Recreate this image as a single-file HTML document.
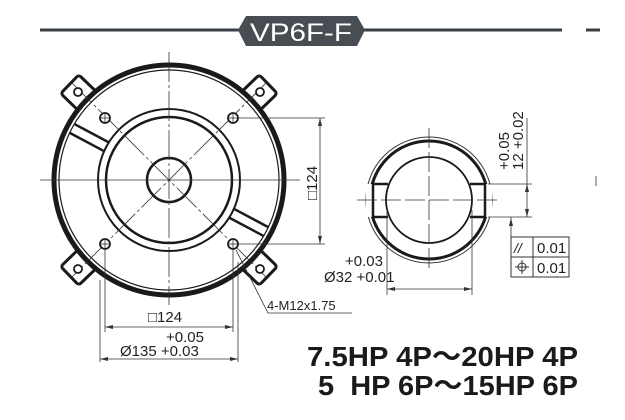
<!DOCTYPE html>
<html><head><meta charset="utf-8"><style>
html,body{margin:0;padding:0;background:#fff}
svg{display:block}
text{font-family:"Liberation Sans",sans-serif;fill:#222}
</style></head><body>
<svg width="625" height="420" viewBox="0 0 625 420" xmlns="http://www.w3.org/2000/svg">
<!-- title -->
<line x1="40" y1="30" x2="562" y2="30" stroke="#3a3f44" stroke-width="3"/>
<line x1="586" y1="30" x2="600" y2="30" stroke="#3a3f44" stroke-width="3"/>
<polygon points="238,30 246,16 357,16 365,30 357,46 246,46" fill="#474d52"/>
<text x="301" y="41" font-size="25" text-anchor="middle" style="fill:#fff" textLength="102" lengthAdjust="spacingAndGlyphs">VP6F-F</text>

<!-- lugs -->
<g stroke="#1a1a1a" stroke-width="3" fill="#fff">
<g transform="translate(169,180) rotate(-136)"><rect x="100" y="-13" width="38" height="26" rx="3"/></g>
<g transform="translate(169,180) rotate(-44)"><rect x="100" y="-13" width="38" height="26" rx="3"/></g>
<g transform="translate(169,180) rotate(44)"><rect x="100" y="-13" width="38" height="26" rx="3"/></g>
<g transform="translate(169,180) rotate(136)"><rect x="100" y="-13" width="38" height="26" rx="3"/></g>
</g>
<circle cx="169" cy="180" r="115" fill="#fff" stroke="#1a1a1a" stroke-width="5"/>
<circle cx="169" cy="180" r="110" fill="none" stroke="#1a1a1a" stroke-width="1.2"/>
<!-- spokes -->
<g stroke="#1a1a1a" stroke-width="2.5">
<g transform="translate(169,180) rotate(-152)"><line x1="70" y1="-5" x2="110" y2="-5"/><line x1="70" y1="5" x2="110" y2="5"/></g>
<g transform="translate(169,180) rotate(28)"><line x1="70" y1="-5" x2="110" y2="-5"/><line x1="70" y1="5" x2="110" y2="5"/></g>
</g>
<circle cx="169" cy="180" r="71" fill="#fff" stroke="#1a1a1a" stroke-width="2"/>
<circle cx="169" cy="180" r="63" fill="none" stroke="#1a1a1a" stroke-width="2.5"/>
<circle cx="169" cy="180" r="22" fill="none" stroke="#1a1a1a" stroke-width="2.5"/>
<!-- center lines -->
<g stroke="#333" stroke-width="0.8" fill="none">
<line x1="40" y1="180" x2="300" y2="180"/>
<line x1="169" y1="52" x2="169" y2="305" stroke-dasharray="30,3,3,3"/>
<line x1="72" y1="83" x2="266" y2="277" stroke-dasharray="28,3,3,3"/>
<line x1="266" y1="83" x2="72" y2="277" stroke-dasharray="28,3,3,3"/>
</g>
<!-- holes -->
<g stroke="#1a1a1a" stroke-width="1.8" fill="#fff">
<circle cx="105" cy="118" r="5"/><circle cx="233" cy="118" r="5"/>
<circle cx="105" cy="244" r="5"/><circle cx="233" cy="244" r="5"/>
<circle cx="78" cy="92" r="4"/><circle cx="260" cy="92" r="4"/>
<circle cx="78" cy="269" r="4"/><circle cx="260" cy="269" r="4"/>
</g>
<g stroke="#333" stroke-width="0.8">
<line x1="100" y1="118" x2="110" y2="118"/><line x1="105" y1="113" x2="105" y2="123"/>
<line x1="228" y1="118" x2="238" y2="118"/><line x1="233" y1="113" x2="233" y2="123"/>
<line x1="100" y1="244" x2="110" y2="244"/><line x1="105" y1="239" x2="105" y2="249"/>
<line x1="228" y1="244" x2="238" y2="244"/><line x1="233" y1="239" x2="233" y2="249"/>
</g>
<!-- dimensions left -->
<g stroke="#333" stroke-width="0.8" fill="none">
<line x1="238" y1="118" x2="325" y2="118"/>
<line x1="238" y1="244" x2="325" y2="244"/>
<line x1="320" y1="118" x2="320" y2="244"/>
<line x1="105" y1="249" x2="105" y2="332"/>
<line x1="233" y1="249" x2="233" y2="332"/>
<line x1="105" y1="327" x2="233" y2="327"/>
<line x1="100" y1="280" x2="100" y2="362"/>
<line x1="238" y1="262" x2="238" y2="362"/>
<line x1="100" y1="359" x2="238" y2="359"/>
<polyline points="236,250 268,313 352,313"/>
</g>
<g fill="#333">
<polygon points="320,118 318,126 322,126"/><polygon points="320,244 318,236 322,236"/>
<polygon points="105,327 113,325 113,329"/><polygon points="233,327 225,325 225,329"/>
<polygon points="100,359 108,357 108,361"/><polygon points="238,359 230,357 230,361"/>
</g>
<text x="0" y="0" font-size="15" transform="translate(317,200) rotate(-90)">□124</text>
<text x="148" y="322" font-size="15">□124</text>
<text x="166" y="342" font-size="15">+0.05</text>
<text x="120" y="356" font-size="15">Ø135 +0.03</text>
<text x="267" y="310" font-size="13">4-M12x1.75</text>

<!-- right part -->
<circle cx="429" cy="200" r="63" fill="none" stroke="#333" stroke-width="1"/>
<circle cx="429" cy="200" r="59" fill="none" stroke="#1a1a1a" stroke-width="3"/>
<rect x="366" y="184" width="22" height="33" fill="#fff"/>
<rect x="470" y="184" width="22" height="33" fill="#fff"/>
<g stroke="#1a1a1a" stroke-width="2.5" fill="none">
<line x1="372" y1="184" x2="388" y2="184"/><line x1="372" y1="217" x2="388" y2="217"/>
<line x1="373" y1="184" x2="373" y2="217"/>
<line x1="470" y1="184" x2="486" y2="184"/><line x1="470" y1="217" x2="486" y2="217"/>
<line x1="485" y1="184" x2="485" y2="217"/>
</g>
<circle cx="429" cy="200" r="43" fill="none" stroke="#1a1a1a" stroke-width="1.8"/>
<g stroke="#333" stroke-width="0.8" fill="none">
<line x1="429" y1="128" x2="429" y2="272" stroke-dasharray="20,4"/>
<line x1="357" y1="200" x2="500" y2="200" stroke-dasharray="20,4"/>
<line x1="387" y1="210" x2="387" y2="295"/>
<line x1="472" y1="210" x2="472" y2="295"/>
<line x1="387" y1="289" x2="472" y2="289"/>
<line x1="488" y1="184" x2="532" y2="184"/>
<line x1="488" y1="217" x2="532" y2="217"/>
<line x1="527" y1="118" x2="527" y2="217"/>
<line x1="511" y1="217" x2="511" y2="237"/>
<line x1="596" y1="176" x2="596" y2="186"/>
</g>
<g fill="#333">
<polygon points="387,289 395,287 395,291"/><polygon points="472,289 464,287 464,291"/>
<polygon points="527,184 525,192 529,192"/><polygon points="527,217 525,209 529,209"/>
<polygon points="511,218 509,226 513,226"/>
</g>
<text x="345" y="266" font-size="15">+0.03</text>
<text x="324" y="282" font-size="15">Ø32 +0.01</text>
<text font-size="15" transform="translate(509,170) rotate(-90)">+0.05</text>
<text font-size="15" transform="translate(523,170) rotate(-90)">12 +0.02</text>
<g stroke="#333" stroke-width="1" fill="none">
<rect x="511" y="237" width="58" height="40"/>
<line x1="511" y1="257" x2="569" y2="257"/>
<line x1="533" y1="237" x2="533" y2="277"/>
<circle cx="522" cy="267" r="4"/>
<line x1="515" y1="267" x2="529" y2="267"/><line x1="522" y1="260" x2="522" y2="274"/>
</g>
<text x="514" y="253" font-size="14" font-style="italic">//</text>
<text x="537" y="253" font-size="15">0.01</text>
<text x="537" y="273" font-size="15">0.01</text>

<!-- bottom text -->
<text x="307" y="366" font-size="28" font-weight="bold" textLength="271" lengthAdjust="spacingAndGlyphs" style="fill:#1a1a1a;font-family:'Liberation Sans','Noto Sans CJK SC',sans-serif">7.5HP 4P～20HP 4P</text>
<text x="318" y="395" font-size="28" font-weight="bold" textLength="260" lengthAdjust="spacingAndGlyphs" style="fill:#1a1a1a;font-family:'Liberation Sans','Noto Sans CJK SC',sans-serif">5&#160; HP 6P～15HP 6P</text>
</svg>
</body></html>
